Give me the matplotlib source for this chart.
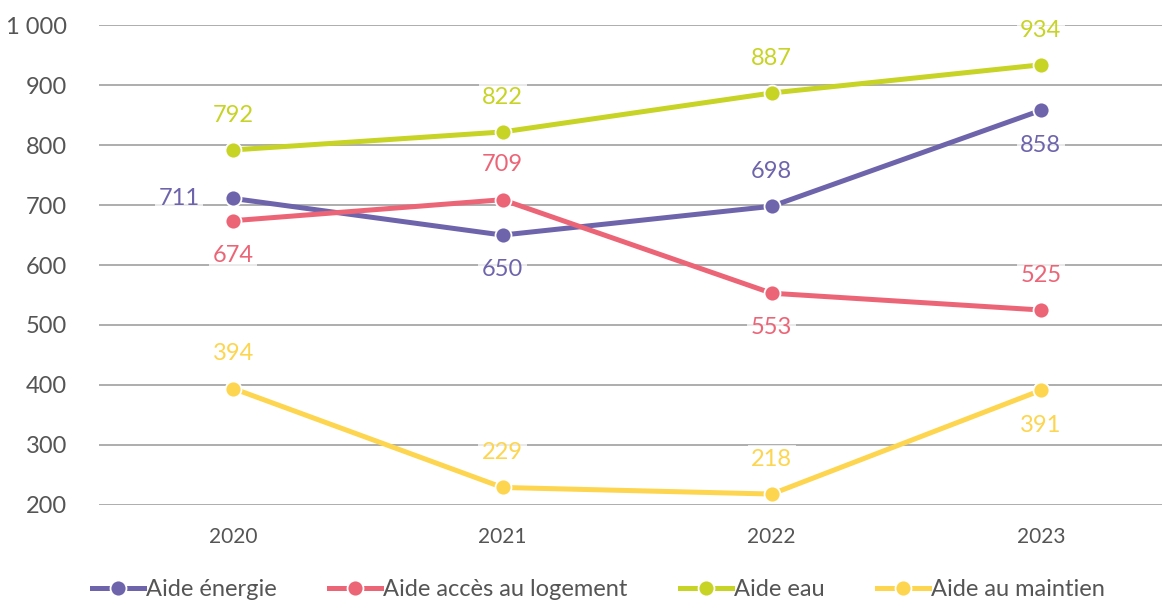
import numpy as np
import matplotlib
matplotlib.use("Agg")
import matplotlib.pyplot as plt
from matplotlib.ticker import FuncFormatter

plt.rcParams['font.family'] = ['Lato', 'DejaVu Sans']

years = ["2020", "2021", "2022", "2023"]
series_names = ["Aide énergie", "Aide accès au logement", "Aide eau", "Aide au maintien"]
energie = [711, 650, 698, 858]
logement = [674, 709, 553, 525]
eau = [792, 822, 887, 934]
maintien = [394, 229, 218, 391]

colors = ["#6E64AC", "#EC6577", "#C7D325", "#FDD54E"]
# where each data label sits relative to its point
label_pos = [
    ["left", "below", "above", "below"],
    ["below", "above", "below", "above"],
    ["above", "above", "above", "above"],
    ["above", "above", "above", "below"],
]

fig = plt.figure(figsize=(11.62, 6.01), dpi=100)
ax = fig.add_axes([0.085, 0.16, 0.915, 0.798])

x = np.arange(len(years))
all_series = [energie, logement, eau, maintien]

for vals, name, col, pos in zip(all_series, series_names, colors, label_pos):
    ax.plot(x, vals, color=col, lw=3.6, marker="o", ms=11.5,
            mec="white", mew=1.3, label=name, zorder=3)
    for xi, v, p in zip(x, vals, pos):
        if p == "above":
            off = (0, 25)
        elif p == "below":
            off = (0, -25)
        else:
            off = (-39, 0)
        ax.annotate(f"{v}", xy=(xi, v), xytext=off, textcoords="offset points",
                    ha="center", va="center", color=col, fontsize=17, zorder=4,
                    bbox=dict(boxstyle="square,pad=0.15", fc="white",
                              ec="none", alpha=0.75))

ax.set_xlim(-0.5, 3.45)
ax.set_ylim(200, 1000)
ax.set_yticks(np.arange(200, 1001, 100))
ax.yaxis.set_major_formatter(FuncFormatter(
    lambda v, p: f"{int(v):,}".replace(",", " ")))
ax.set_xticks(x)
ax.set_xticklabels(years)
ax.tick_params(axis="y", length=0, labelsize=17, labelcolor="#555555", pad=23)
ax.tick_params(axis="x", length=0, labelsize=15, labelcolor="#555555", pad=16)
ax.grid(axis="y", color="#A0A0A0", lw=1.2, zorder=0)
for s in ax.spines.values():
    s.set_visible(False)

leg = ax.legend(loc="upper center", bbox_to_anchor=(0.47, -0.11), ncol=4,
                frameon=False, fontsize=17, handlelength=2.2,
                columnspacing=2.2, handletextpad=0.1)
for t in leg.get_texts():
    t.set_color("#555555")

fig.savefig("out.png", dpi=100)
